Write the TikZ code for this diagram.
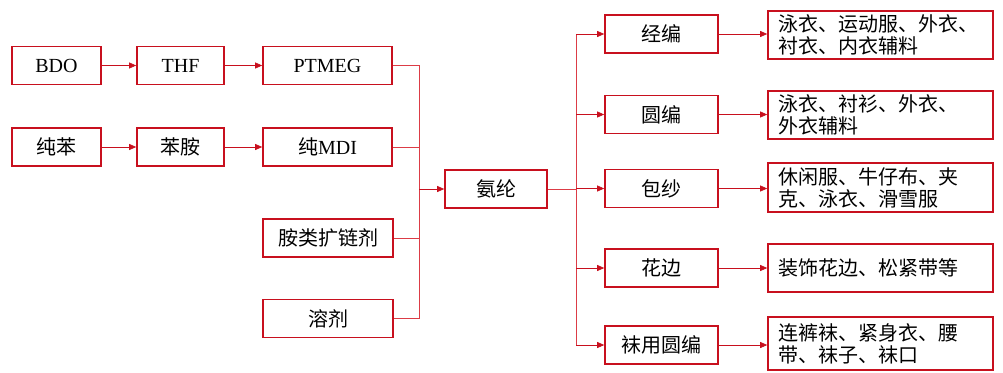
\documentclass[tikz,border=0pt]{standalone}
\usepackage{fontspec}
\setmainfont{Liberation Serif}
\newfontfamily\cjk{Noto Sans CJK SC}
\usetikzlibrary{arrows.meta}
\definecolor{boxred}{RGB}{200,16,30}
\definecolor{linered}{RGB}{220,60,70}
\tikzset{
  box/.style={draw=boxred, line width=1.6pt, minimum height=38pt, inner sep=0pt, font=\fontsize{20pt}{22pt}\selectfont},
  rbox/.style={draw=boxred, line width=1.6pt, minimum width=225pt, text width=205pt, align=left, inner xsep=10pt, inner ysep=0pt, font=\cjk\fontsize{20pt}{22pt}\selectfont},
  conn/.style={draw=linered, line width=0.7pt},
  arr/.style={conn, -{Triangle[length=7pt,width=6pt]}, boxred},
}
\begin{document}
\begin{tikzpicture}[x=1pt,y=-1pt]
\useasboundingbox (0,0) rectangle (1003,372);
% left column
\node[box, minimum width=89pt] (bdo) at (56.5,65.5) {BDO};
\node[box, minimum width=87pt] (thf) at (180.5,65.5) {THF};
\node[box, minimum width=129pt] (ptmeg) at (327.5,65.5) {PTMEG};
\node[box, minimum width=89pt] (cb) at (56.5,147) {\cjk 纯苯};
\node[box, minimum width=87pt] (ba) at (180.5,147) {\cjk 苯胺};
\node[box, minimum width=129pt] (mdi) at (327.5,147) {{\cjk 纯}MDI};
\node[box, minimum width=130pt] (kl) at (328,238) {\cjk 胺类扩链剂};
\node[box, minimum width=130pt] (rj) at (328,318.5) {\cjk 溶剂};
% center
\node[box, minimum width=102pt] (al) at (496,189) {\cjk 氨纶};
% middle column
\node[box, minimum width=113pt] (jb) at (661.5,34) {\cjk 经编};
\node[box, minimum width=113pt] (yb) at (661.5,114.5) {\cjk 圆编};
\node[box, minimum width=113pt] (bs) at (661.5,188.5) {\cjk 包纱};
\node[box, minimum width=113pt] (hb) at (661.5,268) {\cjk 花边};
\node[box, minimum width=113pt] (wy) at (661.5,345) {\cjk 袜用圆编};
% right column
\node[rbox, minimum height=48pt] (r1) at (880.5,35) {泳衣、运动服、外衣、\\衬衣、内衣辅料};
\node[rbox, minimum height=48pt] (r2) at (880.5,115) {泳衣、衬衫、外衣、\\外衣辅料};
\node[rbox, minimum height=49pt] (r3) at (880.5,187.5) {休闲服、牛仔布、夹\\克、泳衣、滑雪服};
\node[rbox, minimum height=48pt] (r4) at (880.5,268) {装饰花边、松紧带等};
\node[rbox, minimum height=53pt] (r5) at (880.5,343.5) {连裤袜、紧身衣、腰\\带、袜子、袜口};
% left arrows
\draw[arr] (bdo) -- (thf);
\draw[arr] (thf) -- (ptmeg);
\draw[arr] (cb) -- (ba);
\draw[arr] (ba) -- (mdi);
% merge
\coordinate (jl) at (419,189);
\draw[conn] (ptmeg.east) -- (ptmeg.east -| jl) -- (rj.east -| jl) -- (rj.east);
\draw[conn] (mdi.east) -- (mdi.east -| jl);
\draw[conn] (kl.east) -- (kl.east -| jl);
\draw[arr] (jl) -- (al.west);
% split
\coordinate (jr) at (576,189);
\draw[conn] (al.east) -- (jr);
\draw[conn] (jb.west -| jr) -- (wy.west -| jr);
\foreach \n in {jb,yb,bs,hb,wy} \draw[arr] (\n.west -| jr) -- (\n.west);
\draw[arr] (jb) -- (jb.east -| r1.west);
\draw[arr] (yb) -- (yb.east -| r2.west);
\draw[arr] (bs) -- (bs.east -| r3.west);
\draw[arr] (hb) -- (hb.east -| r4.west);
\draw[arr] (wy) -- (wy.east -| r5.west);
\end{tikzpicture}
\end{document}
